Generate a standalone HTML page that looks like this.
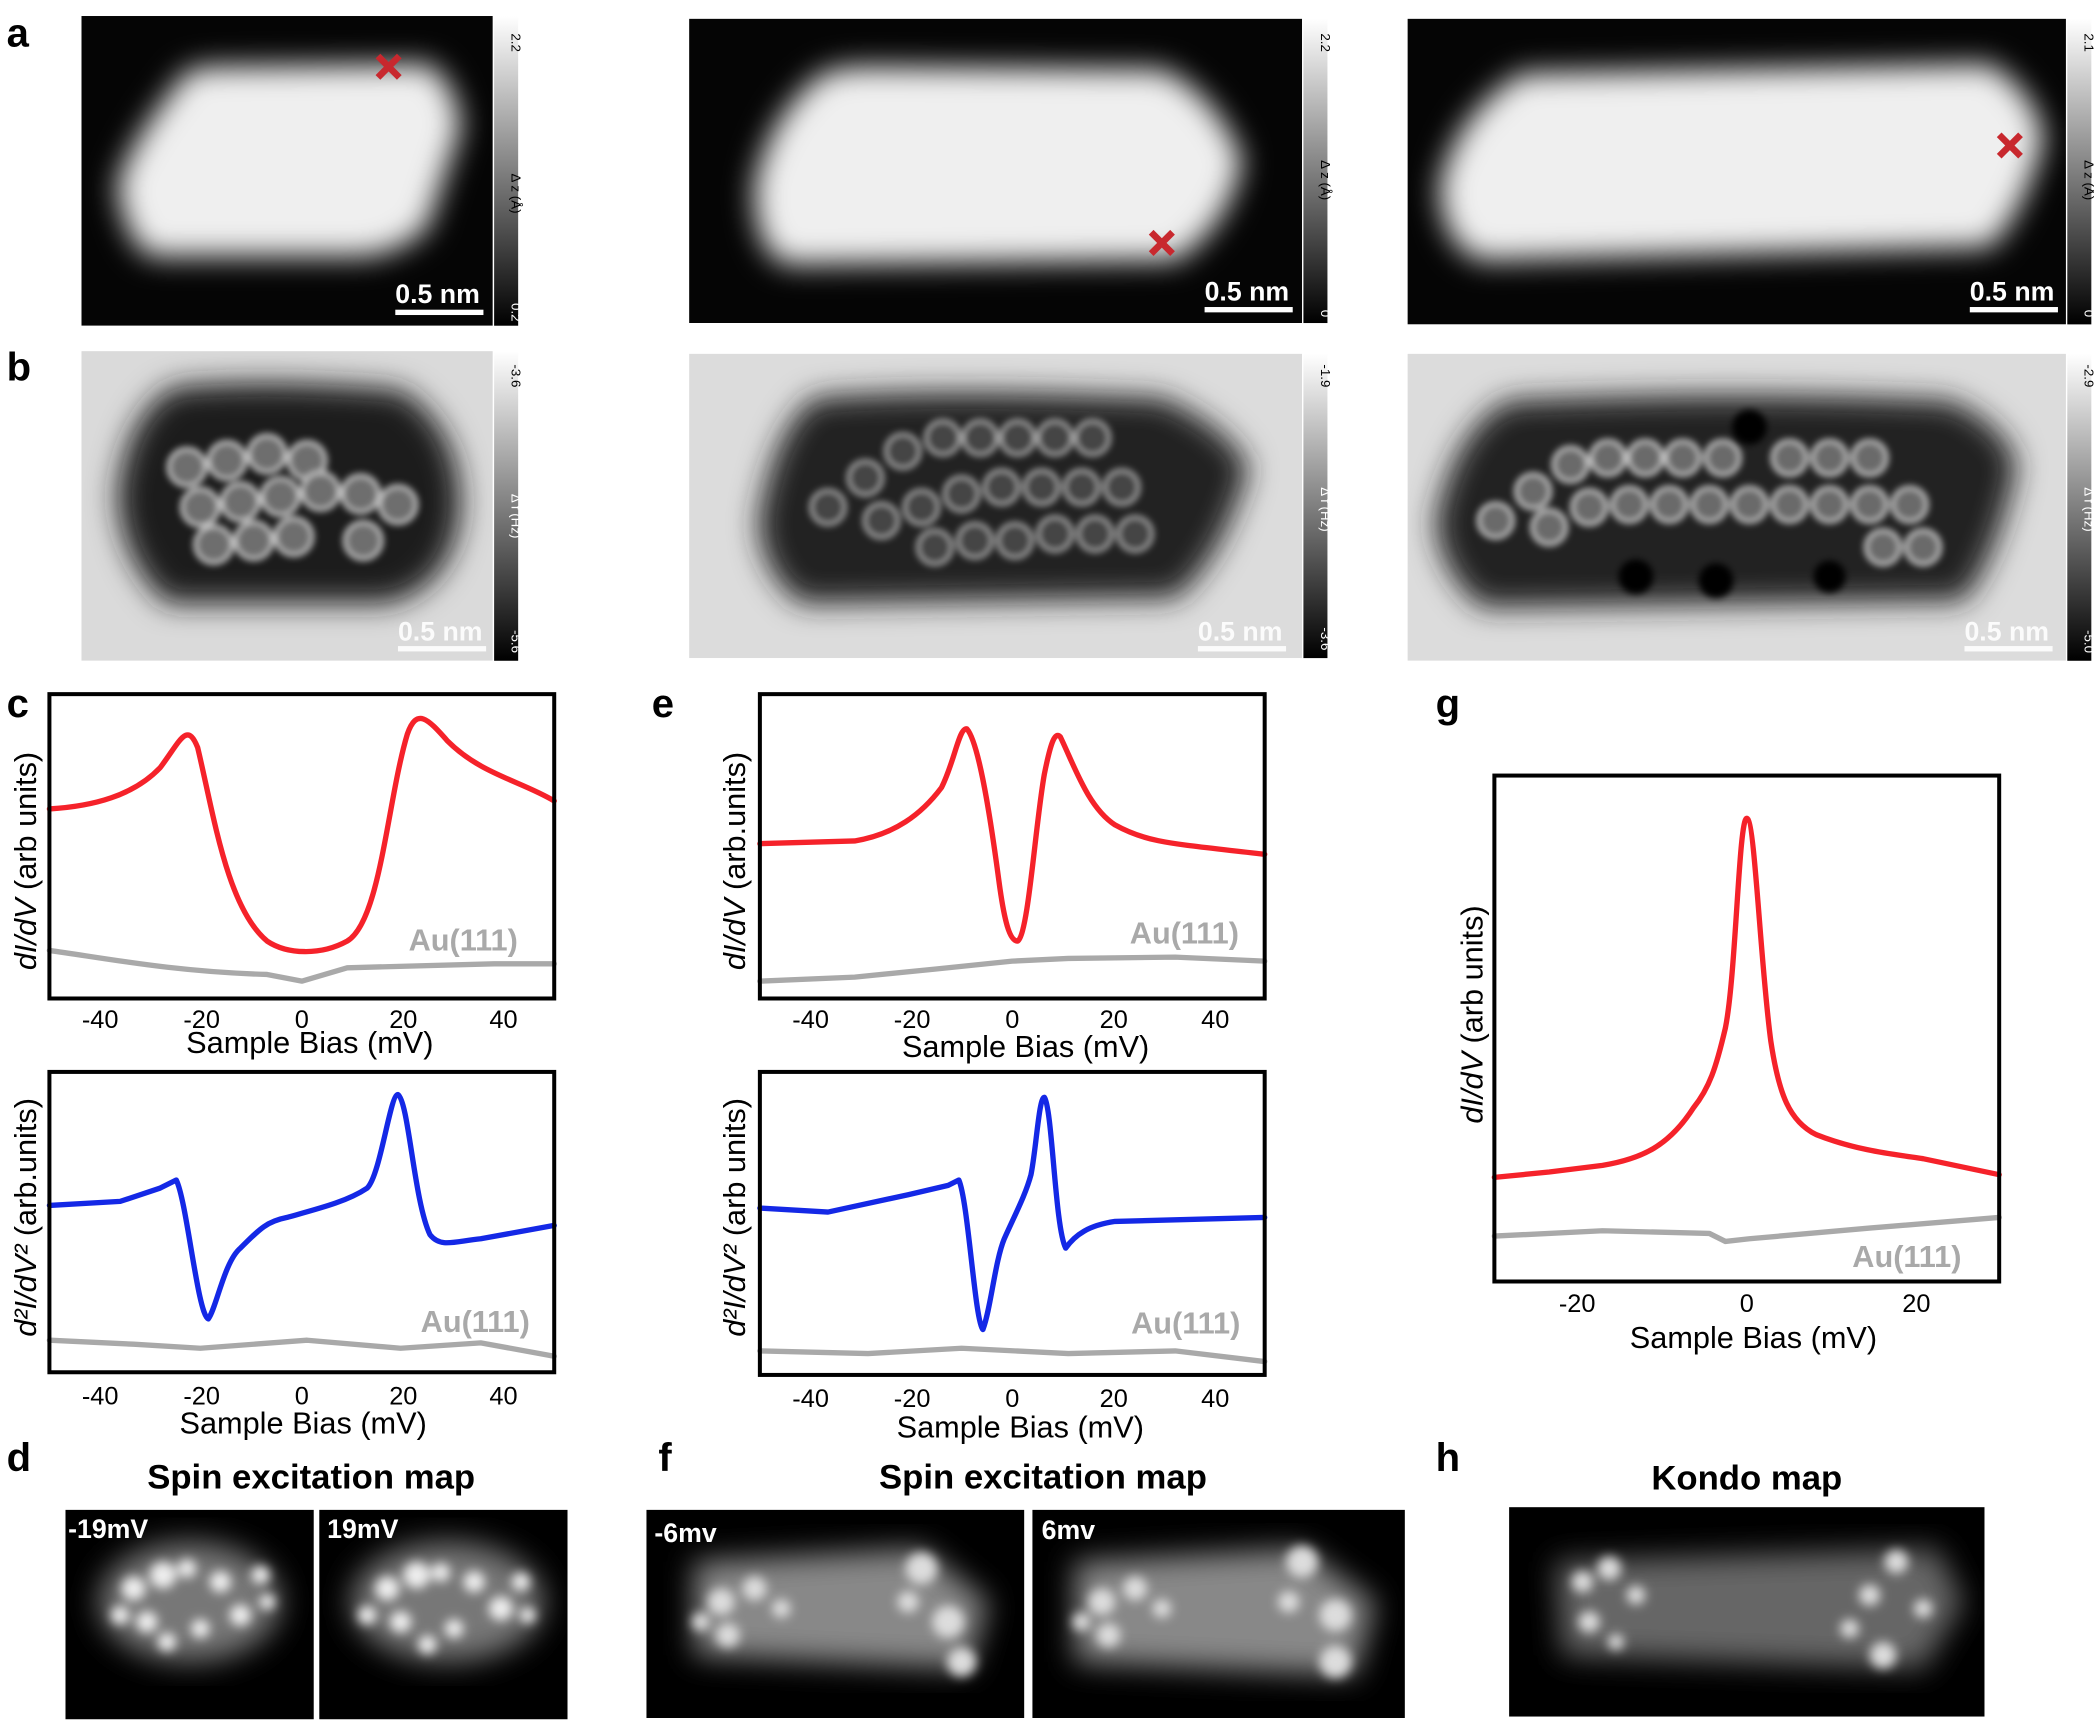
<!DOCTYPE html>
<html><head><style>html,body{margin:0;padding:0;background:#fff}svg{display:block}</style></head><body>
<svg width="2094" height="1722" viewBox="0 0 1568 1290" preserveAspectRatio="none" xmlns="http://www.w3.org/2000/svg" font-family="Liberation Sans, Arial, sans-serif">
<defs>
<filter id="b8" x="-20%" y="-20%" width="140%" height="140%"><feGaussianBlur stdDeviation="11"/></filter>
<filter id="b4" x="-20%" y="-20%" width="140%" height="140%"><feGaussianBlur stdDeviation="4"/></filter>
<filter id="b3"><feGaussianBlur stdDeviation="2.5"/></filter>
<linearGradient id="cb" x1="0" y1="0" x2="0" y2="1"><stop offset="0" stop-color="#fff"/><stop offset="1" stop-color="#000"/></linearGradient>
<clipPath id="c1"><rect x="61" y="12" width="308" height="232"/></clipPath>
<clipPath id="c2"><rect x="516" y="14" width="459" height="228"/></clipPath>
<clipPath id="c3"><rect x="1054" y="14" width="493" height="229"/></clipPath>
<clipPath id="c4"><rect x="61" y="263" width="308" height="232"/></clipPath>
<clipPath id="c5"><rect x="516" y="265" width="459" height="228"/></clipPath>
<clipPath id="c6"><rect x="1054" y="265" width="493" height="230"/></clipPath>
<clipPath id="cd1"><rect x="49" y="1131" width="186" height="157"/></clipPath>
<clipPath id="cd2"><rect x="239" y="1131" width="186" height="157"/></clipPath>
<clipPath id="cf1"><rect x="484" y="1131" width="283" height="156"/></clipPath>
<clipPath id="cf2"><rect x="773" y="1131" width="279" height="156"/></clipPath>
<clipPath id="ch"><rect x="1130" y="1129" width="356" height="157"/></clipPath>
</defs>
<g font-weight="bold" font-size="30" fill="#000">
<text x="5" y="35">a</text><text x="5" y="285">b</text><text x="5" y="537">c</text><text x="488" y="537">e</text><text x="1075" y="537">g</text>
<text x="5" y="1102">d</text><text x="493" y="1102">f</text><text x="1075" y="1102">h</text>
</g>
<!-- row a -->
<g clip-path="url(#c1)"><rect x="61" y="12" width="308" height="232" fill="#050505"/>
<path d="M135,60 Q140,50 160,50 L320,48 Q340,60 345,95 L320,170 Q300,190 270,192 L115,192 Q95,185 88,140 Q95,110 135,60 Z" fill="#efefef" filter="url(#b8)"/></g>
<g clip-path="url(#c2)"><rect x="516" y="14" width="459" height="228" fill="#050505"/>
<path d="M610,60 Q620,50 650,50 L870,52 Q910,70 930,120 Q920,170 880,195 L590,198 Q565,190 565,140 Q575,90 610,60 Z" fill="#efefef" filter="url(#b8)"/></g>
<g clip-path="url(#c3)"><rect x="1054" y="14" width="493" height="229" fill="#050505"/>
<path d="M1140,55 L1490,48 Q1525,70 1530,105 Q1515,160 1490,185 L1110,195 Q1080,185 1078,140 Q1090,85 1140,55 Z" fill="#efefef" filter="url(#b8)"/></g>
<g stroke="#c8282e" stroke-width="5"><path d="M283,42 L299,58 M299,42 L283,58"/><path d="M862,174 L878,190 M878,174 L862,190"/><path d="M1497,101 L1513,117 M1513,101 L1497,117"/></g>
<g fill="#fff" font-weight="bold" font-size="20"><text x="296" y="227">0.5 nm</text><rect x="296" y="232" width="66" height="4"/>
<text x="902" y="225">0.5 nm</text><rect x="902" y="230" width="66" height="4"/>
<text x="1475" y="225">0.5 nm</text><rect x="1475" y="230" width="66" height="4"/></g>
<!-- row b -->
<g clip-path="url(#c4)"><rect x="61" y="263" width="308" height="232" fill="#dadada"/>
<path d="M130,290 Q200,283 300,292 Q345,320 345,380 Q340,440 290,452 L125,452 Q90,420 88,370 Q95,310 130,290 Z" fill="#1e1e1e" filter="url(#b8)"/>
<g fill="#6e6e6e" stroke="#cfcfcf" stroke-width="2.5" filter="url(#b3)"><circle cx="140" cy="350" r="14"/><circle cx="170" cy="345" r="14"/><circle cx="200" cy="340" r="14"/><circle cx="230" cy="345" r="14"/><circle cx="150" cy="380" r="14"/><circle cx="180" cy="376" r="14"/><circle cx="210" cy="372" r="14"/><circle cx="240" cy="368" r="14"/><circle cx="270" cy="370" r="14"/><circle cx="298" cy="378" r="14"/><circle cx="160" cy="408" r="14"/><circle cx="190" cy="405" r="14"/><circle cx="220" cy="402" r="14"/><circle cx="272" cy="405" r="14"/></g></g>
<g clip-path="url(#c5)"><rect x="516" y="265" width="459" height="228" fill="#dcdcdc"/>
<path d="M610,298 Q700,290 870,298 Q920,320 935,350 Q915,420 880,448 L600,452 Q570,430 568,390 Q580,320 610,298 Z" fill="#202020" filter="url(#b8)"/>
<g fill="#454545" stroke="#bdbdbd" stroke-width="2" filter="url(#b3)"><circle cx="620" cy="380" r="13"/><circle cx="648" cy="358" r="13"/><circle cx="676" cy="338" r="13"/><circle cx="706" cy="328" r="13"/><circle cx="734" cy="328" r="13"/><circle cx="762" cy="328" r="13"/><circle cx="790" cy="328" r="13"/><circle cx="818" cy="328" r="13"/><circle cx="660" cy="390" r="13"/><circle cx="690" cy="380" r="13"/><circle cx="720" cy="370" r="13"/><circle cx="750" cy="365" r="13"/><circle cx="780" cy="365" r="13"/><circle cx="810" cy="365" r="13"/><circle cx="840" cy="365" r="13"/><circle cx="700" cy="410" r="13"/><circle cx="730" cy="405" r="13"/><circle cx="760" cy="405" r="13"/><circle cx="790" cy="400" r="13"/><circle cx="820" cy="400" r="13"/><circle cx="850" cy="400" r="13"/></g></g>
<g clip-path="url(#c6)"><rect x="1054" y="265" width="493" height="230" fill="#dcdcdc"/>
<path d="M1130,300 Q1300,292 1460,300 Q1505,320 1510,350 Q1495,420 1470,450 L1110,455 Q1078,430 1075,390 Q1090,320 1130,300 Z" fill="#202020" filter="url(#b8)"/>
<g fill="#6a6a6a" stroke="#cfcfcf" stroke-width="2.5" filter="url(#b3)"><circle cx="1120" cy="390" r="13"/><circle cx="1148" cy="368" r="13"/><circle cx="1176" cy="348" r="13"/><circle cx="1204" cy="343" r="13"/><circle cx="1232" cy="343" r="13"/><circle cx="1260" cy="343" r="13"/><circle cx="1290" cy="343" r="13"/><circle cx="1340" cy="343" r="13"/><circle cx="1370" cy="343" r="13"/><circle cx="1400" cy="343" r="13"/><circle cx="1160" cy="395" r="13"/><circle cx="1190" cy="380" r="13"/><circle cx="1220" cy="378" r="13"/><circle cx="1250" cy="378" r="13"/><circle cx="1280" cy="378" r="13"/><circle cx="1310" cy="378" r="13"/><circle cx="1340" cy="378" r="13"/><circle cx="1370" cy="378" r="13"/><circle cx="1400" cy="378" r="13"/><circle cx="1430" cy="378" r="13"/><circle cx="1440" cy="410" r="13"/><circle cx="1410" cy="410" r="13"/></g>
<g fill="#050505" filter="url(#b3)"><circle cx="1225" cy="432" r="13"/><circle cx="1285" cy="435" r="13"/><circle cx="1370" cy="432" r="12"/><circle cx="1310" cy="320" r="13"/></g></g>
<g fill="#fff" font-weight="bold" font-size="20" opacity="0.9"><text x="298" y="480">0.5 nm</text><rect x="298" y="484" width="66" height="4"/>
<text x="897" y="480">0.5 nm</text><rect x="897" y="484" width="66" height="4"/>
<text x="1471" y="480">0.5 nm</text><rect x="1471" y="484" width="66" height="4"/></g>
<!-- colorbars -->
<g><rect x="370" y="12" width="18" height="232" fill="url(#cb)"/><rect x="976" y="14" width="18" height="228" fill="url(#cb)"/><rect x="1548" y="14" width="18" height="229" fill="url(#cb)"/>
<rect x="370" y="263" width="18" height="232" fill="url(#cb)"/><rect x="976" y="265" width="18" height="228" fill="url(#cb)"/><rect x="1548" y="265" width="18" height="230" fill="url(#cb)"/></g>
<g font-size="10" fill="#000">
<text transform="translate(383,25) rotate(90)">2.2</text><text transform="translate(383,130) rotate(90)">Δ z (Å)</text><text transform="translate(383,227) rotate(90)" fill="#fff">0.2</text>
<text transform="translate(989,25) rotate(90)">2.2</text><text transform="translate(989,120) rotate(90)">Δ z (Å)</text><text transform="translate(989,232) rotate(90)" fill="#fff">0</text>
<text transform="translate(1561,25) rotate(90)">2.1</text><text transform="translate(1561,120) rotate(90)">Δ z (Å)</text><text transform="translate(1561,232) rotate(90)" fill="#fff">0</text>
<text transform="translate(383,273) rotate(90)">-3.6</text><text transform="translate(383,370) rotate(90)" fill="#fff">Δ f (Hz)</text><text transform="translate(383,472) rotate(90)" fill="#fff">-5.6</text>
<text transform="translate(989,273) rotate(90)">-1.9</text><text transform="translate(989,365) rotate(90)" fill="#fff">Δ f (Hz)</text><text transform="translate(989,470) rotate(90)" fill="#fff">-3.6</text>
<text transform="translate(1561,273) rotate(90)">-2.9</text><text transform="translate(1561,365) rotate(90)" fill="#fff">Δ f (Hz)</text><text transform="translate(1561,472) rotate(90)" fill="#fff">-5.0</text>
</g>
<!-- plots -->
<g fill="none" stroke-linejoin="round" stroke-linecap="round">
<path d="M37,712 C80,718 130,728 200,730 L226,735 L260,725 L370,722 L415,722" stroke="#a9a9a9" stroke-width="4"/>
<path d="M37,606 C70,604 100,596 120,575 C135,555 140,540 148,560 C160,610 170,680 200,705 C215,715 240,716 260,705 C285,690 290,600 305,550 C312,530 320,538 335,555 C360,580 390,585 415,600" stroke="#f5222a" stroke-width="4"/>
<path d="M37,1004 L100,1007 L150,1010 L230,1004 L300,1010 L360,1006 L415,1016" stroke="#a9a9a9" stroke-width="4"/>
<path d="M37,903 L90,900 L120,890 L132,884 C140,900 148,985 156,988 C162,980 168,945 180,935 C195,920 200,915 215,912 C240,905 260,900 275,890 C285,880 292,820 298,820 C306,825 310,900 322,925 C330,935 340,930 360,928 L415,918" stroke="#1428e6" stroke-width="4"/>
<path d="M569,735 L640,732 L700,726 L758,720 L800,718 L880,717 L947,720" stroke="#a9a9a9" stroke-width="4"/>
<path d="M569,632 L640,630 C670,625 690,610 705,590 C715,570 718,545 724,546 C732,555 740,600 748,660 C752,690 756,705 762,705 C770,700 775,620 782,580 C787,555 790,548 794,552 C805,575 815,605 835,618 C860,632 880,632 947,640" stroke="#f5222a" stroke-width="4"/>
<path d="M569,1012 L650,1014 L720,1010 L800,1014 L880,1012 L947,1020" stroke="#a9a9a9" stroke-width="4"/>
<path d="M569,905 L620,908 L680,895 L710,888 L718,884 C725,900 730,990 736,996 C742,980 745,945 752,928 C760,910 768,895 772,880 C776,860 778,822 782,822 C788,830 790,920 798,935 C805,925 815,918 835,915 L947,912" stroke="#1428e6" stroke-width="4"/>
<path d="M1119,926 L1200,922 L1280,924 L1292,930 L1310,928 L1400,920 L1497,912" stroke="#a9a9a9" stroke-width="4"/>
<path d="M1119,882 L1160,878 L1200,873 C1230,868 1250,858 1268,830 C1280,815 1285,800 1292,770 C1300,730 1302,613 1308,613 C1314,613 1318,720 1326,780 C1332,820 1340,840 1360,850 C1390,862 1420,865 1440,868 L1497,880" stroke="#f5222a" stroke-width="4"/>
</g>
<g fill="none" stroke="#000" stroke-width="3">
<rect x="37" y="520" width="378" height="228"/><rect x="37" y="803" width="378" height="225"/>
<rect x="569" y="520" width="378" height="228"/><rect x="569" y="803" width="378" height="227"/>
<rect x="1119" y="581" width="378" height="379"/>
</g>
<g font-size="19" fill="#000" text-anchor="middle">
<text x="75" y="770">-40</text><text x="151" y="770">-20</text><text x="226" y="770">0</text><text x="302" y="770">20</text><text x="377" y="770">40</text>
<text x="75" y="1052">-40</text><text x="151" y="1052">-20</text><text x="226" y="1052">0</text><text x="302" y="1052">20</text><text x="377" y="1052">40</text>
<text x="607" y="770">-40</text><text x="683" y="770">-20</text><text x="758" y="770">0</text><text x="834" y="770">20</text><text x="910" y="770">40</text>
<text x="607" y="1054">-40</text><text x="683" y="1054">-20</text><text x="758" y="1054">0</text><text x="834" y="1054">20</text><text x="910" y="1054">40</text>
<text x="1181" y="983">-20</text><text x="1308" y="983">0</text><text x="1435" y="983">20</text>
</g>
<g font-size="23" fill="#000" text-anchor="middle">
<text x="232" y="789">Sample Bias (mV)</text><text x="227" y="1074">Sample Bias (mV)</text>
<text x="768" y="792">Sample Bias (mV)</text><text x="764" y="1077">Sample Bias (mV)</text>
<text x="1313" y="1010">Sample Bias (mV)</text>
<text transform="translate(27,645) rotate(-90)"><tspan font-style="italic">dI/dV</tspan> (arb units)</text>
<text transform="translate(27,912) rotate(-90)"><tspan font-style="italic">d²I/dV²</tspan> (arb.units)</text>
<text transform="translate(558,645) rotate(-90)"><tspan font-style="italic">dI/dV</tspan> (arb.units)</text>
<text transform="translate(558,912) rotate(-90)"><tspan font-style="italic">d²I/dV²</tspan> (arb units)</text>
<text transform="translate(1110,760) rotate(-90)"><tspan font-style="italic">dI/dV</tspan> (arb units)</text>
</g>
<g font-size="23" font-weight="bold" fill="#a9a9a9">
<text x="306" y="712">Au(111)</text><text x="315" y="998">Au(111)</text><text x="846" y="707">Au(111)</text><text x="847" y="999">Au(111)</text><text x="1387" y="949">Au(111)</text>
</g>
<g font-size="26" font-weight="bold" fill="#000" text-anchor="middle">
<text x="233" y="1115">Spin excitation map</text><text x="781" y="1115">Spin excitation map</text><text x="1308" y="1116">Kondo map</text>
</g>
<!-- maps -->
<g clip-path="url(#cd1)"><rect x="49" y="1131" width="186" height="157" fill="#000"/>
<ellipse cx="142" cy="1200" rx="68" ry="45" fill="#777" filter="url(#b8)"/>
<g fill="#eee" filter="url(#b4)"><circle cx="100" cy="1190" r="9"/><circle cx="122" cy="1180" r="10"/><circle cx="110" cy="1215" r="8"/><circle cx="165" cy="1185" r="8"/><circle cx="180" cy="1210" r="8"/><circle cx="150" cy="1220" r="7"/><circle cx="195" cy="1180" r="7"/><circle cx="90" cy="1210" r="7"/><circle cx="140" cy="1175" r="7"/><circle cx="125" cy="1230" r="7"/><circle cx="200" cy="1200" r="6"/></g></g>
<g clip-path="url(#cd2)"><rect x="239" y="1131" width="186" height="157" fill="#000"/>
<ellipse cx="335" cy="1200" rx="72" ry="45" fill="#777" filter="url(#b8)"/>
<g fill="#eee" filter="url(#b4)"><circle cx="290" cy="1190" r="9"/><circle cx="312" cy="1180" r="10"/><circle cx="300" cy="1215" r="8"/><circle cx="355" cy="1185" r="8"/><circle cx="375" cy="1205" r="9"/><circle cx="340" cy="1220" r="7"/><circle cx="390" cy="1185" r="7"/><circle cx="275" cy="1210" r="7"/><circle cx="330" cy="1178" r="7"/><circle cx="320" cy="1232" r="7"/><circle cx="395" cy="1210" r="6"/></g></g>
<g clip-path="url(#cf1)"><rect x="484" y="1131" width="283" height="156" fill="#000"/>
<path d="M520,1170 L690,1160 L740,1200 L725,1250 L520,1240 Z" fill="#888" filter="url(#b8)"/>
<g fill="#ddd" filter="url(#b4)"><circle cx="540" cy="1200" r="10"/><circle cx="565" cy="1190" r="9"/><circle cx="690" cy="1175" r="12"/><circle cx="710" cy="1215" r="12"/><circle cx="720" cy="1245" r="11"/><circle cx="545" cy="1225" r="9"/><circle cx="525" cy="1215" r="7"/><circle cx="585" cy="1205" r="7"/><circle cx="680" cy="1200" r="8"/></g></g>
<g clip-path="url(#cf2)"><rect x="773" y="1131" width="279" height="156" fill="#000"/>
<path d="M805,1170 L975,1160 L1030,1200 L1015,1255 L805,1245 Z" fill="#888" filter="url(#b8)"/>
<g fill="#ddd" filter="url(#b4)"><circle cx="825" cy="1200" r="10"/><circle cx="850" cy="1190" r="9"/><circle cx="975" cy="1170" r="12"/><circle cx="1000" cy="1210" r="12"/><circle cx="1000" cy="1245" r="12"/><circle cx="830" cy="1225" r="9"/><circle cx="810" cy="1215" r="7"/><circle cx="870" cy="1205" r="7"/><circle cx="965" cy="1200" r="8"/></g></g>
<g clip-path="url(#ch)"><rect x="1130" y="1129" width="356" height="157" fill="#000"/>
<path d="M1165,1170 L1450,1160 L1470,1200 L1440,1250 L1170,1240 Z" fill="#666" filter="url(#b8)"/>
<g fill="#ddd" filter="url(#b4)"><circle cx="1185" cy="1185" r="8"/><circle cx="1205" cy="1175" r="9"/><circle cx="1190" cy="1215" r="8"/><circle cx="1420" cy="1170" r="9"/><circle cx="1400" cy="1195" r="8"/><circle cx="1410" cy="1240" r="10"/><circle cx="1440" cy="1205" r="7"/><circle cx="1225" cy="1195" r="7"/><circle cx="1210" cy="1230" r="6"/><circle cx="1385" cy="1220" r="7"/></g></g>
<g font-size="20" font-weight="bold" fill="#fff">
<text x="51" y="1152">-19mV</text><text x="245" y="1152">19mV</text><text x="490" y="1155">-6mv</text><text x="780" y="1153">6mv</text>
</g>
</svg>
</body></html>
